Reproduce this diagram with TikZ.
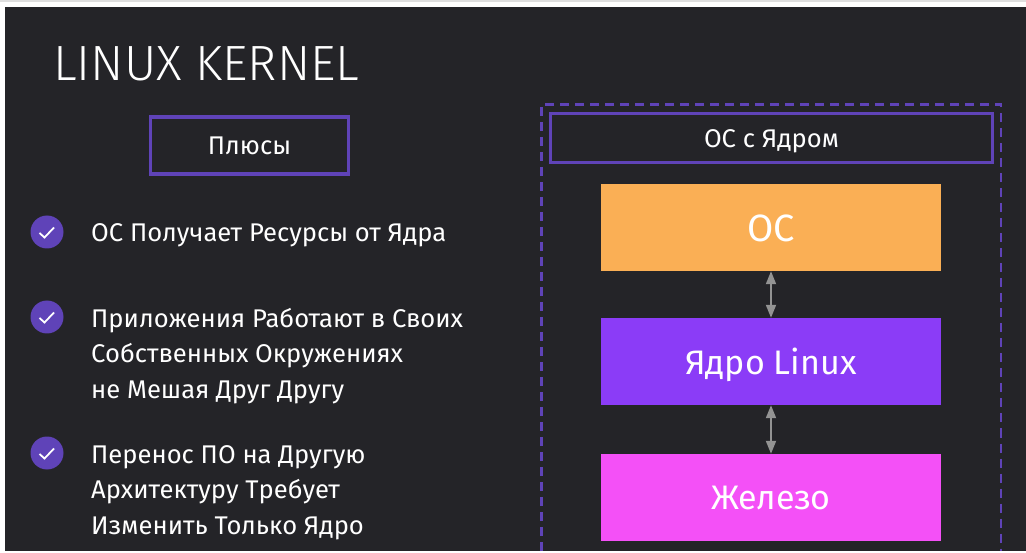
\documentclass[tikz,border=0pt]{standalone}
\usepackage{fontspec}
\setmainfont{Fira Sans}
\newfontfamily\lightfont{Fira Sans Light}
\usetikzlibrary{arrows.meta}
\definecolor{slide}{HTML}{242428}
\definecolor{violet}{HTML}{5F43B8}
\tikzset{%
    head/.style={draw=violet, line width=3.2pt, text=white, text height=19pt, text depth=0pt, font=\fontsize{25.6}{30}\selectfont},
    layer/.style={minimum width=340pt, minimum height=87pt, inner sep=0pt, text=white, text depth=0pt, font=\fontsize{34}{40}\selectfont},
    item/.style={anchor=base west, inner sep=0pt, align=left, text=white, font=\fontsize{25.6}{35.5}\selectfont},
    tick/.style={circle, fill=violet, minimum size=33pt, inner sep=0pt},
    link/.style={draw=gray!85, line width=1.8pt, {Triangle[length=13pt,width=10pt]}-{Triangle[length=13pt,width=10pt]}},
    mark check/.style={draw=white, line width=1.8pt},
}
\begin{document}
\begin{tikzpicture}[x=1pt,y=-1pt]
    \useasboundingbox (0,0) rectangle (1026,553);
    \fill[white] (0,0) rectangle (1026,553);
    \fill[gray!25] (0,0) rectangle (1026,2);
    \fill[slide] (5,7) rectangle (1026,551);
    \node[anchor=base west, inner sep=0pt, text=white, font=\fontsize{49.5}{60}\lightfont] (title) at (53,81) {LINUX KERNEL};
    % left column
    \node[head, minimum width=198pt, minimum height=57pt] (plus) at (249.5,145.5) {Плюсы};
    \node[tick] (t1) at (47,232) {};
    \node[tick] (t2) at (47,317) {};
    \node[tick] (t3) at (47,453) {};
    \foreach \t in {t1,t2,t3}
        \draw[mark check] (\t) +(-7.5,1) -- +(-2.5,5.5) -- +(7,-4.5);
    \node[item] (i1) at (91,242) {ОС Получает Ресурсы от Ядра};
    \node[item, anchor=north west] (i2) at (91,308) {Приложения Работают в Своих\\Собственных Окружениях\\не Мешая Друг Другу};
    \node[item, anchor=north west] (i3) at (91,445) {Перенос ПО на Другую\\Архитектуру Требует\\Изменить Только Ядро};
    % right column
    \coordinate (dl) at (541.5,551);
    \coordinate (dr) at (1001,551);
    \draw[violet, line width=2.6pt, dash pattern=on 9pt off 6pt] (dl) -- (541.5,104.5) -- (1001,104.5) -- (dr);
    \node[head, minimum width=442pt, minimum height=49pt] (oskern) at (771.5,138) {ОС с Ядром};
    \node[layer, fill={rgb,255:red,250;green,175;blue,85}, text height=29pt, font=\fontsize{38}{44}\selectfont] (os) at (771,227.5) {ОС};
    \node[layer, fill={rgb,255:red,139;green,60;blue,247}] (kern) at (771,361.5) {Ядро Linux};
    \node[layer, fill={rgb,255:red,244;green,80;blue,247}] (iron) at (771,497.5) {Железо};
    \draw[link] (os) -- (kern);
    \draw[link] (kern) -- (iron);
\end{tikzpicture}
\end{document}
